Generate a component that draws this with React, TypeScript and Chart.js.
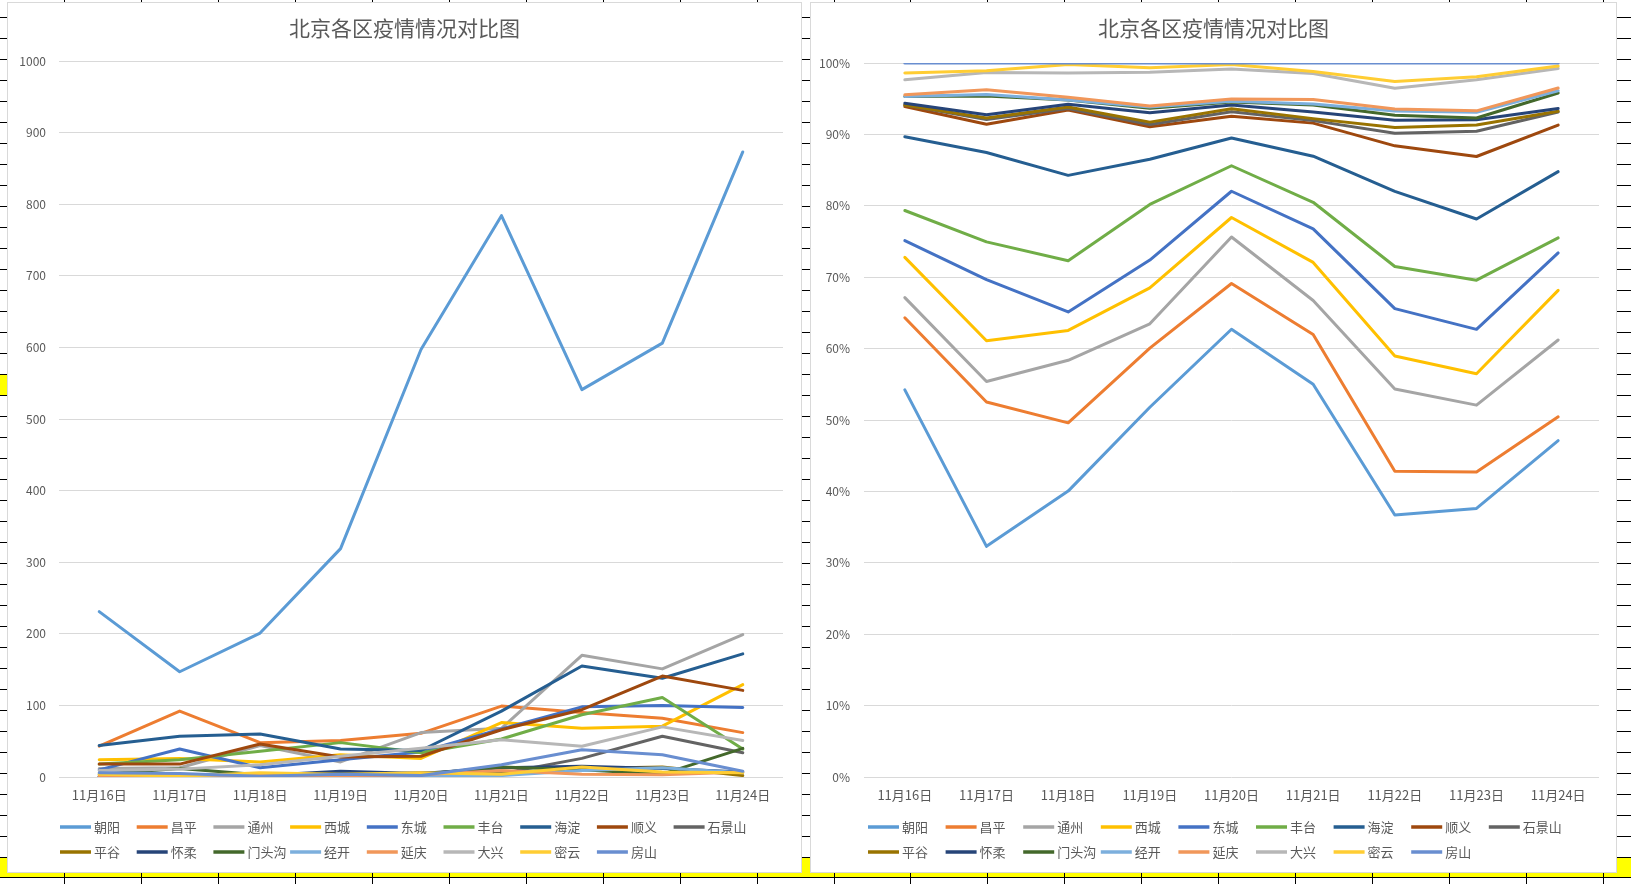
import React, { useEffect, useRef } from "react";
import { Chart, registerables } from "chart.js";

Chart.register(...registerables);

// ---------------- data ----------------
const titleText = "北京各区疫情情况对比图";
const dates = ["11月16日", "11月17日", "11月18日", "11月19日", "11月20日", "11月21日", "11月22日", "11月23日", "11月24日"];
const districts = ["朝阳", "昌平", "通州", "西城", "东城", "丰台", "海淀", "顺义", "石景山", "平谷", "怀柔", "门头沟", "经开", "延庆", "大兴", "密云", "房山"];

const chaoyang = [231, 147, 201, 319, 597, 784, 541, 606, 873];
const changping = [43, 92, 48, 51, 61, 99, 90, 82, 62];
const tongzhou = [12, 13, 44, 21, 62, 68, 170, 151, 199];
const xicheng = [24, 26, 21, 31, 26, 76, 68, 71, 129];
const dongcheng = [10, 39, 13, 24, 35, 67, 98, 100, 97];
const fengtai = [18, 24, 36, 48, 34, 53, 87, 111, 39];
const haidian = [44, 57, 60, 39, 37, 92, 155, 138, 172];
const shunyi = [18, 18, 46, 28, 29, 66, 94, 141, 121];
const shijingshan = [1, 3, 1, 2, 6, 5, 26, 57, 34];
const pinggu = [0, 1, 1, 2, 4, 4, 12, 14, 2];
const huairou = [1, 2, 2, 8, 5, 13, 15, 12, 7];
const mentougou = [4, 12, 3, 4, 4, 14, 10, 4, 40];
const jingkai = [0, 1, 0, 1, 1, 2, 9, 13, 6];
const yanqing = [1, 3, 2, 1, 3, 9, 4, 3, 7];
const daxing = [9, 11, 17, 29, 40, 52, 43, 70, 51];
const miyun = [4, 1, 6, 4, 6, 4, 14, 7, 6];
const fangshan = [6, 5, 1, 4, 2, 17, 38, 31, 8];

const countTicks = [0, 100, 200, 300, 400, 500, 600, 700, 800, 900, 1000];
const percentTicks = [0, 10, 20, 30, 40, 50, 60, 70, 80, 90, 100];

const seriesValues = [
  chaoyang, changping, tongzhou, xicheng, dongcheng, fengtai, haidian, shunyi,
  shijingshan, pinggu, huairou, mentougou, jingkai, yanqing, daxing, miyun, fangshan,
];

// 100% stacked: cumulative share of each day's total
const dayTotals = dates.map((_, d) => seriesValues.reduce((s, arr) => s + arr[d], 0));
const cumulativeShares = seriesValues.map((_, i) =>
  dates.map((__, d) => {
    let s = 0;
    for (let j = 0; j <= i; j++) s += seriesValues[j][d];
    return (s / dayTotals[d]) * 100;
  })
);

// ---------------- styles ----------------
const seriesColors = [
  "#5B9BD5", "#ED7D31", "#A5A5A5", "#FFC000", "#4472C4", "#70AD47", "#255E91", "#9E480E",
  "#636363", "#997300", "#264478", "#43682B", "#7CAFDD", "#F1975A", "#B7B7B7", "#FFCD33", "#698ED0",
];
const FONT = '"Noto Sans CJK SC", "Noto Sans", sans-serif';
const TEXT = "#595959";

const gridLegend = {
  id: "gridLegend",
  afterDraw(chart: any, _args: any, opts: any) {
    const ctx = chart.ctx;
    ctx.save();
    // chart title, centred on the whole chart box
    ctx.font = `21px ${FONT}`;
    ctx.fillStyle = TEXT;
    ctx.textAlign = "center";
    ctx.textBaseline = "middle";
    ctx.fillText(titleText, chart.width / 2, opts.titleY);
    // legend grid
    ctx.font = `13px ${FONT}`;
    ctx.textAlign = "left";
    districts.forEach((name, i) => {
      const col = i % 9;
      const row = Math.floor(i / 9);
      const x = opts.x + col * opts.pitch;
      const y = opts.rows[row];
      ctx.strokeStyle = seriesColors[i];
      ctx.lineWidth = 3.5;
      ctx.lineCap = "butt";
      ctx.beginPath();
      ctx.moveTo(x, y);
      ctx.lineTo(x + 31, y);
      ctx.stroke();
      ctx.fillStyle = TEXT;
      ctx.fillText(name, x + 34, y + 0.5);
    });
    ctx.restore();
  },
};

type ChartProps = {
  width: number;
  height: number;
  series: number[][];
  ticks: number[];
  suffix: string;
  yWidth: number;
  yPad: number;
  padRight: number;
  padTop: number;
  titleY: number;
  xHeight: number;
  legendX: number;
  legendPitch: number;
};

function LineChart(p: ChartProps) {
  const ref = useRef<HTMLCanvasElement>(null);
  useEffect(() => {
    const n = districts.length;
    const chart = new Chart(ref.current as HTMLCanvasElement, {
      type: "line",
      data: {
        labels: dates,
        datasets: p.series.map((vals, i) => ({
          label: districts[i],
          data: vals,
          borderColor: seriesColors[i],
          backgroundColor: seriesColors[i],
          borderWidth: 3,
          pointRadius: 0,
          pointHoverRadius: 0,
          tension: 0,
          fill: false,
          order: n - i,
          borderJoinStyle: "round",
          borderCapStyle: "round",
        })),
      },
      options: {
        responsive: false,
        animation: false,
        events: [],
        layout: { padding: { left: 0, right: p.padRight, top: p.padTop, bottom: 0 } },
        plugins: {
          legend: { display: false },
          tooltip: { enabled: false },
          title: { display: false },
          // @ts-ignore
          gridLegend: { x: p.legendX, pitch: p.legendPitch, rows: [824, 849], titleY: p.titleY },
        },
        scales: {
          x: {
            offset: true,
            grid: { display: false, drawTicks: false },
            border: { display: false },
            ticks: {
              color: TEXT,
              font: { family: FONT, size: 13 },
              padding: 10,
              maxRotation: 0,
              autoSkip: false,
            },
            afterFit: (s: any) => {
              s.height = p.xHeight;
            },
          },
          y: {
            min: p.ticks[0],
            max: p.ticks[p.ticks.length - 1],
            grid: { color: "#d9d9d9", drawTicks: false, lineWidth: 1 },
            border: { display: false },
            ticks: {
              stepSize: p.ticks[1] - p.ticks[0],
              color: TEXT,
              font: { family: FONT, size: 12 },
              padding: p.yPad,
              callback: (v: any) => `${v}${p.suffix}`,
            },
            afterFit: (s: any) => {
              s.width = p.yWidth;
            },
          },
        },
      } as any,
      plugins: [gridLegend as any],
    });
    return () => chart.destroy();
  }, []);
  return (
    <canvas
      ref={ref}
      width={p.width}
      height={p.height}
      style={{ display: "block", width: p.width, height: p.height }}
    />
  );
}

const rowLines = Array.from({ length: 43 }, (_, k) => Math.round(17.3 + k * 20.98));
const colLines = Array.from({ length: 22 }, (_, k) => Math.round(64 + k * 76.95));

export default function App() {
  return (
    <div
      style={{
        position: "fixed",
        left: 0,
        top: 0,
        width: 1631,
        height: 884,
        background: "#ffffff",
        overflow: "hidden",
      }}
    >
      {/* spreadsheet background */}
      <div style={{ position: "absolute", left: 0, top: 375, width: 64, height: 20, background: "#ffff00" }} />
      <div style={{ position: "absolute", left: 0, top: 857, width: 1631, height: 20, background: "#ffff00" }} />
      {rowLines.map((y) => (
        <div key={"r" + y} style={{ position: "absolute", left: 0, top: y, width: 1631, height: 1, background: "#000" }} />
      ))}
      {colLines.map((x) => (
        <div key={"c" + x} style={{ position: "absolute", left: x, top: 0, width: 1, height: 884, background: "#000" }} />
      ))}

      {/* left chart */}
      <div
        style={{
          position: "absolute",
          left: 7,
          top: 2,
          width: 795,
          height: 871,
          boxSizing: "border-box",
          border: "1px solid #d9d9d9",
          background: "#fff",
        }}
      >
        <LineChart
          width={793}
          height={869}
          series={seriesValues}
          ticks={countTicks}
          suffix=""
          yWidth={51}
          yPad={13}
          padRight={18}
          padTop={58}
          titleY={25}
          xHeight={95}
          legendX={52}
          legendPitch={76.7}
        />
      </div>

      {/* right chart */}
      <div
        style={{
          position: "absolute",
          left: 810,
          top: 2,
          width: 807,
          height: 871,
          boxSizing: "border-box",
          border: "1px solid #d9d9d9",
          background: "#fff",
        }}
      >
        <LineChart
          width={805}
          height={869}
          series={cumulativeShares}
          ticks={percentTicks}
          suffix="%"
          yWidth={53}
          yPad={14}
          padRight={17}
          padTop={60}
          titleY={25}
          xHeight={95}
          legendX={57}
          legendPitch={77.6}
        />
      </div>
    </div>
  );
}
